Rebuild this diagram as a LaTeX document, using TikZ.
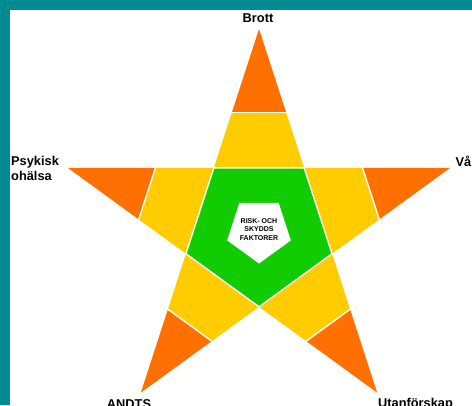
\documentclass[tikz,border=0pt]{standalone}
\usepackage{fontspec}
\setmainfont{Liberation Sans}
\usetikzlibrary{calc}
\definecolor{frame}{RGB}{0,138,146}
\definecolor{tipcol}{RGB}{255,112,0}
\definecolor{midcol}{RGB}{255,204,0}
\definecolor{corecol}{RGB}{17,204,0}
\begin{document}
\begin{tikzpicture}[x=1pt,y=1pt,
  sep/.style={draw=white, line width=1.4pt, line cap=round},
  lbl/.style={font=\bfseries\fontsize{12.8}{15.5}\selectfont, inner sep=0pt, text=black}]
\useasboundingbox (0,0) rectangle (472,-405);
\clip (0,0) rectangle (472,-405);
\fill[white] (0,0) rectangle (472,-405);
\fill[frame] (0,0) rectangle (472,-10);
\fill[frame] (0,0) rectangle (10,-405);
\coordinate (C) at (259,-230);
\foreach \k in {0,...,4}{
  \pgfmathsetmacro{\a}{90+72*\k}
  \coordinate (t\k) at ($(C)+(\a:201)$);
  \coordinate (l\k) at ($(C)+(\a+36:76.8)$);
  \coordinate (r\k) at ($(C)+(\a-36:76.8)$);
  \coordinate (bl\k) at ($(t\k)!0.6!(l\k)$);
  \coordinate (br\k) at ($(t\k)!0.6!(r\k)$);
  \fill[tipcol] (t\k) -- (bl\k) -- (br\k) -- cycle;
  \fill[midcol] (bl\k) -- (l\k) -- (r\k) -- (br\k) -- cycle;
  \draw[sep] (bl\k) -- (br\k);
}
\filldraw[fill=corecol, draw=white, line width=1.4pt, line join=round]
  (l0) -- (l1) -- (l2) -- (l3) -- (l4) -- cycle;
\fill[white] ($(C)+(126:33.5)$) -- ($(C)+(198:33.5)$) -- ($(C)+(270:33.5)$)
  -- ($(C)+(342:33.5)$) -- ($(C)+(54:33.5)$) -- cycle;
\node[font=\bfseries\fontsize{7}{8.8}\selectfont, align=center, inner sep=0pt]
  (core) at (259,-229.5) {RISK- OCH\\SKYDDS\\FAKTORER};
\node[lbl, anchor=base] (brott) at (258,-22.7) {Brott};
\node[lbl, anchor=north west, align=left] (psyk) at (11,-155.6) {Psykisk\\ohälsa};
\node[lbl, anchor=base west] (va) at (455.5,-166.3) {Vå};
\node[lbl, anchor=base] (andts) at (129,-408.8) {ANDTS};
\node[lbl, anchor=base west] (utan) at (378,-407.8) {Utanförskap};
\end{tikzpicture}
\end{document}
